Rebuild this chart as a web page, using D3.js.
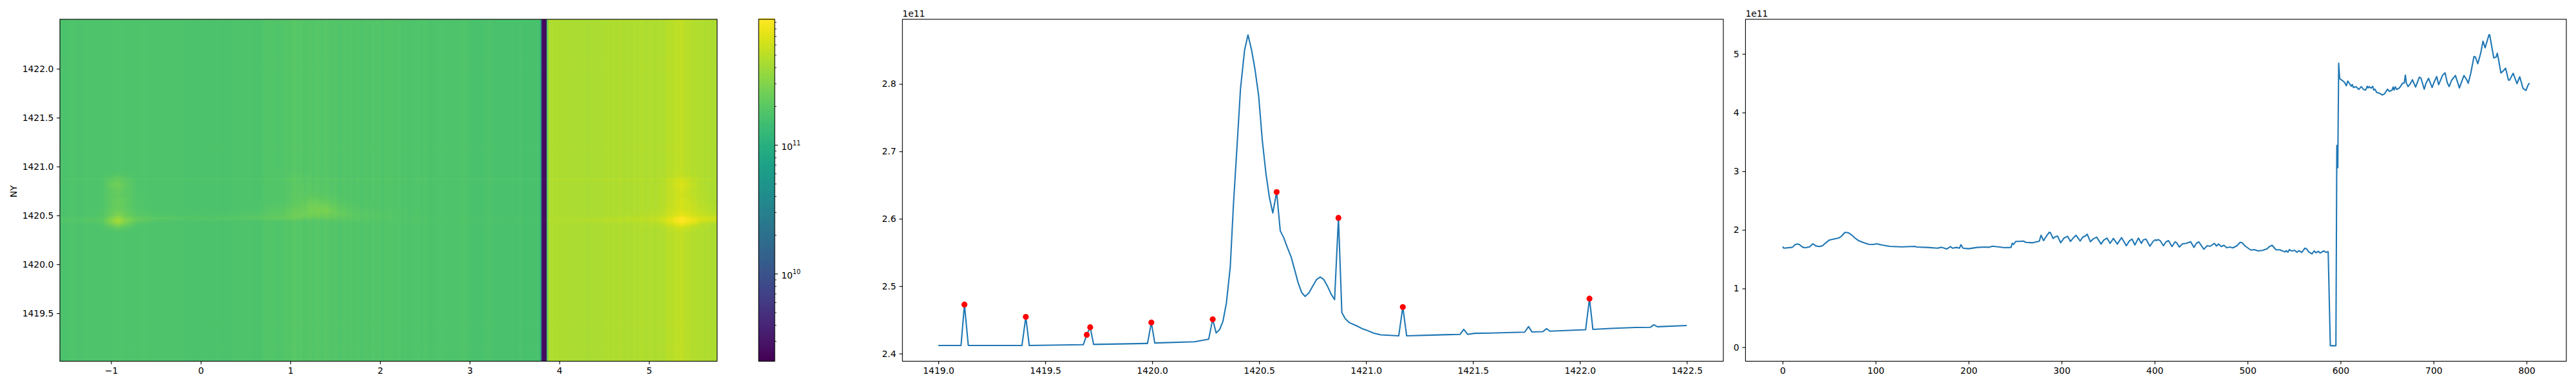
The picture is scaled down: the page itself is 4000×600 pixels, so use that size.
<!DOCTYPE html>
<html><head><meta charset="utf-8">
<script src="https://cdn.jsdelivr.net/npm/d3@7"></script>
<style>html,body{margin:0;padding:0;background:#fff}svg{display:block}text{font-family:'DejaVu Sans',sans-serif;fill:#000}</style>
</head><body><div id="chart"></div>
<script>
// ---- Panel 2: spectrum (frequency, units of 1e11)
const freq=[1419,1419.106,1419.122,1419.14,1419.391,1419.409,1419.425,1419.678,1419.694,1419.71,1419.726,1419.978,1419.996,1420.012,1420.198,1420.264,1420.283,1420.299,1420.315,1420.331,1420.347,1420.365,1420.38,1420.397,1420.413,1420.432,1420.448,1420.465,1420.481,1420.498,1420.515,1420.532,1420.548,1420.564,1420.582,1420.599,1420.615,1420.632,1420.65,1420.666,1420.682,1420.699,1420.715,1420.733,1420.749,1420.769,1420.786,1420.802,1420.82,1420.837,1420.853,1420.871,1420.887,1420.903,1420.921,1420.953,1420.985,1421,1421.035,1421.069,1421.153,1421.172,1421.19,1421.308,1421.389,1421.44,1421.457,1421.475,1421.507,1421.577,1421.742,1421.76,1421.776,1421.827,1421.844,1421.86,1422.027,1422.045,1422.061,1422.146,1422.26,1422.33,1422.346,1422.363,1422.5];
const power=[2.412,2.412,2.4727,2.412,2.412,2.4544,2.412,2.4131,2.4278,2.439,2.4135,2.415,2.446,2.4157,2.4175,2.4212,2.4508,2.4307,2.4354,2.448,2.475,2.528,2.621,2.709,2.793,2.85,2.8727,2.85,2.821,2.782,2.716,2.667,2.632,2.6086,2.6396,2.582,2.572,2.5574,2.543,2.5245,2.5055,2.4906,2.4848,2.49,2.499,2.51,2.5136,2.51,2.4997,2.488,2.48,2.6013,2.4606,2.4515,2.446,2.4416,2.4365,2.435,2.4303,2.4278,2.4263,2.469,2.4263,2.4274,2.4281,2.4285,2.436,2.4285,2.43,2.4303,2.4318,2.44,2.4321,2.4325,2.4369,2.4332,2.4354,2.4815,2.4358,2.4373,2.4387,2.439,2.4427,2.4398,2.4416];
const peakFreq=[1419.122,1419.409,1419.694,1419.71,1419.996,1420.283,1420.582,1420.871,1421.172,1422.045];
const peakPower=[2.4727,2.4544,2.4278,2.439,2.446,2.4508,2.6396,2.6013,2.469,2.4815];

// ---- Panel 3: profile (sample index, units of 1e11)
const sampleIdx=[0,1.4,10.6,13.4,15.9,18,21.7,24.5,29,32.5,36,39.5,43,45.7,50,54.5,60.2,63.2,67,70.6,74,78.7,82,86.8,92.6,97,101.3,107.5,115.5,128.3,142.2,144.5,156,166.5,171,176.4,180.5,182.6,187,190.2,191.8,194,200,209,217.2,222,225.7,232,239,245.6,247,248.4,250.7,254,258.8,261.8,269,275,276.1,277.9,280.7,283.5,286.7,288,290.9,292.7,295.7,299,302.6,306.5,309.5,312.5,315.5,320,322.6,325.7,327.5,331,333.8,337.7,342.5,345.3,348.8,352.2,355.7,359.9,364.5,369.6,373,375.8,378.8,382.7,385.8,388,390.8,395,398.4,400.8,402,403.5,406,409.5,412.3,415,418.7,422,423.8,426.6,430,434.2,438.8,442.3,445,447.6,453,456.6,460,464.2,466.5,468.8,471.7,474.6,477.4,481,484.3,488.5,492,494,497.7,503.5,507,511.5,516,521,523.5,526.5,530.5,534.6,540.4,541.5,543.4,545,547.3,550.8,553,555.4,558.3,561.7,563.5,565.8,569.3,571.6,573.4,576.2,578,582,584.3,586.7,589,595,596,597,598,599,602.7,604.3,606.2,607.8,609.6,611.5,612.6,613.8,616.6,619.6,622.3,625,626.9,628.8,629.7,630.9,632.7,634.6,635.7,637,638.9,641.9,644.9,647.2,650.5,652.3,655.3,656.5,657.6,658.8,660.4,663.4,666.7,668.5,669.7,670.8,672.6,675,677.3,680.7,684.7,686.5,690,691.7,694.6,698.5,700.4,703.4,705.5,709.6,712.4,714.7,716.8,719.3,723.5,727.8,732.7,735.4,737.3,740,743.5,745,747.6,750.6,753.2,755.5,759.6,760.3,764.8,767.3,768.5,770,772.4,774.7,777.5,780.5,781.7,785.6,789.7,792.7,796.2,799.4,801.3,803];
const sampleVal=[1.714,1.688,1.703,1.747,1.758,1.751,1.703,1.696,1.71,1.762,1.725,1.715,1.729,1.769,1.824,1.842,1.86,1.89,1.956,1.952,1.915,1.85,1.813,1.784,1.754,1.751,1.762,1.74,1.718,1.71,1.718,1.707,1.7,1.688,1.703,1.674,1.715,1.688,1.7,1.688,1.747,1.688,1.678,1.7,1.707,1.703,1.721,1.71,1.696,1.7,1.773,1.751,1.803,1.803,1.809,1.787,1.78,1.803,1.809,1.908,1.817,1.89,1.959,1.952,1.853,1.879,1.893,1.78,1.86,1.89,1.803,1.86,1.908,1.809,1.875,1.897,1.926,1.798,1.842,1.875,1.758,1.824,1.86,1.77,1.853,1.758,1.868,1.729,1.813,1.842,1.743,1.86,1.77,1.831,1.842,1.721,1.803,1.831,1.817,1.835,1.817,1.729,1.795,1.817,1.715,1.795,1.78,1.707,1.762,1.77,1.798,1.703,1.77,1.795,1.67,1.729,1.721,1.77,1.725,1.758,1.715,1.737,1.696,1.707,1.693,1.729,1.787,1.78,1.721,1.655,1.663,1.641,1.649,1.677,1.715,1.737,1.66,1.66,1.623,1.645,1.619,1.663,1.641,1.649,1.619,1.644,1.616,1.688,1.675,1.623,1.59,1.641,1.611,1.633,1.605,1.641,1.619,1.627,0.025,0.025,3.44,3.06,4.84,4.58,4.537,4.515,4.457,4.537,4.493,4.449,4.479,4.427,4.442,4.394,4.442,4.391,4.384,4.449,4.42,4.442,4.416,4.446,4.384,4.398,4.343,4.329,4.299,4.318,4.398,4.362,4.38,4.435,4.384,4.438,4.394,4.42,4.5,4.504,4.639,4.5,4.442,4.493,4.559,4.435,4.603,4.584,4.398,4.493,4.584,4.427,4.512,4.614,4.475,4.632,4.676,4.512,4.442,4.548,4.632,4.42,4.632,4.567,4.5,4.669,4.957,4.947,4.833,5.005,5.217,5.104,5.327,5.327,4.932,4.947,5.012,4.896,4.676,4.705,4.756,4.556,4.552,4.669,4.493,4.61,4.413,4.376,4.457,4.504];

// ---- Heatmap: the hump of the profile near sample 68 comes from the hot spot, so it is taken off the background
const humpIdx=[40,50,60,67,75,85,100];
const humpVal=[0,0.1,0.14,0.2,0.15,0.05,0];
// ---- Heatmap: extra brightness (hundredths of a decade)
const heatCols=[-1.57,-1.3,-1.1,-1,-0.92,-0.85,-0.7,-0.5,-0.2,0.2,0.7,0.95,1.1,1.25,1.4,1.55,1.75,2,2.5,3.86,4.5,4.9,5.1,5.25,5.37,5.5,5.6,5.76];
const heatRows=[1420.3,1420.34,1420.38,1420.41,1420.44,1420.47,1420.5,1420.55,1420.6,1420.65,1420.7,1420.75,1420.82,1420.9,1420.95];
const heatBoost=[
[0,0,0,0,0,0,0,0,0,0,0,0,0,0,0,0,0,0,0,0,0,0,0,0,0,0,0,0],
[0,0,0,1,2,1,0,0,0,0,0,0,0,0,0,0,0,0,0,0,0,0,0,1,2,1,0,0],
[0,0,1,8,13,8,0,0,0,0,0,0,0,0,0,0,0,0,0,0,0,0,1,4,8,4,1,0],
[0,0,3,18,26,17,2,0,0,0,0,0,0,0,0,0,0,0,0,0,0,1,3,10,20,12,3,1],
[2,3,6,26,39,26,8,3,1,1,1,1,1,1,1,2,3,1,1,1,3,4,7,18,28,22,12,8],
[2,3,6,22,32,22,10,7,5,5,8,10,10,8,8,7,4,2,1,1,3,5,8,16,26,20,14,14],
[0,0,3,14,22,15,4,2,1,1,4,8,12,13,12,10,4,2,0,0,0,1,4,9,16,12,8,5],
[0,0,2,11,14,11,2,1,0,0,2,6,10,16,17,9,3,1,0,0,0,0,2,7,10,9,5,2],
[0,0,1,9,11,9,1,0,0,0,1,3,7,14,12,5,1,0,0,0,0,0,1,5,8,7,3,1],
[0,0,1,9,12,10,1,0,0,0,0,1,5,10,7,2,0,0,0,0,0,0,1,5,9,6,2,0],
[0,0,1,8,9,8,1,0,0,0,0,1,4,5,3,1,0,0,0,0,0,0,1,4,6,4,1,0],
[0,0,1,9,11,8,0,0,0,0,0,1,4,3,1,0,0,0,0,0,0,0,1,4,8,4,1,0],
[0,0,1,12,16,10,0,0,0,0,0,1,3,2,1,0,0,0,0,0,0,0,1,5,12,5,0,0],
[0,0,0,3,5,3,0,0,0,0,0,1,2,1,0,0,0,0,0,0,0,0,0,1,2,1,0,0],
[0,0,0,0,0,0,0,0,0,0,0,0,0,0,0,0,0,0,0,0,0,0,0,0,0,0,0,0]];
const rowLineFreq=[1419.122,1419.409,1420.871,1421.172,1422.045];
const rowLineGain=[0.006,0.006,0.025,0.006,0.01];

// ---- Tick labels
const heatXTicks=[-1,0,1,2,3,4,5];
const heatYTicks=[1419.5,1420,1420.5,1421,1421.5,1422];
const specXTicks=[1419,1419.5,1420,1420.5,1421,1421.5,1422,1422.5];
const specYTicks=[2.4,2.5,2.6,2.7,2.8];
const profXTicks=[0,100,200,300,400,500,600,700,800];
const profYTicks=[0,1,2,3,4,5];
const colorDomain=[2.1e9,9.5e11];
const colorExps=[10,11];

const FS=13.9, TL=4.86, LW=1.11, BLUE='#1f77b4';
const plotTop=30,plotBottom=561.5;
const svg=d3.select('#chart').append('svg').attr('width',4000).attr('height',600);

function axes(left,right,xs,ys,xt,yt,xf,yf){
  const b=svg.append('g');
  const gx=b.append('g').attr('transform',`translate(0,${plotBottom})`)
    .call(d3.axisBottom(xs).tickValues(xt).tickSize(TL).tickPadding(TL).tickFormat(xf));
  const gy=b.append('g').attr('transform',`translate(${left},0)`)
    .call(d3.axisLeft(ys).tickValues(yt).tickSize(TL).tickPadding(TL).tickFormat(yf));
  [gx,gy].forEach(g=>{
    g.select('.domain').remove();
    g.selectAll('line').attr('stroke','#000').attr('stroke-width',LW);
    g.selectAll('text').style('font-size',FS+'px').style('font-family',"'DejaVu Sans'");
  });
  b.append('rect').attr('x',left).attr('y',plotTop).attr('width',right-left).attr('height',plotBottom-plotTop)
    .attr('fill','none').attr('stroke','#000').attr('stroke-width',LW);
}

// ---------- Heatmap
const H={l:93,r:1113.5};
const hx=d3.scaleLinear().domain([-1.571,5.76]).range([H.l,H.r]);
const hy=d3.scaleLinear().domain([1419.01,1422.505]).range([plotBottom,plotTop]);
const idxOfX=d3.scaleLinear().domain([-1.571,5.76]).range([0,803]);
const humpOf=d3.scaleLinear().domain(humpIdx).range(humpVal).clamp(true);
const color=d3.scaleSequentialLog(d3.interpolateViridis).domain(colorDomain).clamp(true);
function lookup(xsArr,v){
  const i=Math.min(Math.max(d3.bisectLeft(xsArr,v),1),xsArr.length-1);
  const t=(v-xsArr[i-1])/(xsArr[i]-xsArr[i-1]);
  return [i,Math.max(0,Math.min(1,t))];
}
const cw=Math.round(H.r-H.l), ch=Math.round(plotBottom-plotTop);
const cv=document.createElement('canvas'); cv.width=cw; cv.height=ch;
const ctx=cv.getContext('2d'); const im=ctx.createImageData(cw,ch);
const colBase=[],colK=[];
for(let c0=0;c0<cw;c0++){
  const xv=hx.invert(H.l+c0+.5), id=idxOfX(xv);
  const [i,t]=lookup(sampleIdx,id);
  colBase.push((sampleVal[i-1]*(1-t)+sampleVal[i]*t-humpOf(id))*1e11);
  colK.push(lookup(heatCols,xv));
}
for(let r0=0;r0<ch;r0++){
  const f=hy.invert(plotTop+r0+.5);
  const [ri,rt]=lookup(heatRows,f);
  let line=0; rowLineFreq.forEach((lf,k)=>{if(Math.abs(f-lf)<0.009) line+=rowLineGain[k];});
  const inside=f>=heatRows[0]&&f<=heatRows[heatRows.length-1];
  for(let c0=0;c0<cw;c0++){
    const [ci,ct]=colK[c0];
    let bo=0;
    if(inside){
      const A=heatBoost[ri-1],B=heatBoost[ri];
      bo=(A[ci-1]*(1-ct)+A[ci]*ct)*(1-rt)+(B[ci-1]*(1-ct)+B[ci]*ct)*rt;
    }
    const c=d3.rgb(color(colBase[c0]*Math.pow(10,bo/100+line)));
    const o=(r0*cw+c0)*4; im.data[o]=c.r; im.data[o+1]=c.g; im.data[o+2]=c.b; im.data[o+3]=255;
  }
}
ctx.putImageData(im,0,0);
svg.append('image').attr('x',H.l).attr('y',plotTop).attr('width',H.r-H.l).attr('height',plotBottom-plotTop)
  .attr('preserveAspectRatio','none').attr('href',cv.toDataURL());
axes(H.l,H.r,hx,hy,heatXTicks,heatYTicks,d3.format('d'),d3.format('.1f'));
svg.append('text').attr('transform','translate(26,297.5) rotate(-90)').attr('text-anchor','middle')
  .style('font-size',FS+'px').text('NY');

// ---------- Colorbar
const C={l:1178,r:1203};
const cy=d3.scaleLog().domain(colorDomain).range([plotBottom,plotTop]);
const stops=d3.range(0,ch+1).map(i=>cy.invert(plotBottom-i));
svg.append('g').selectAll('rect').data(stops).join('rect')
  .attr('x',C.l).attr('width',C.r-C.l).attr('y',d=>cy(d)-1).attr('height',1.6)
  .attr('fill',d=>color(d));
svg.append('rect').attr('x',C.l).attr('y',plotTop).attr('width',C.r-C.l).attr('height',plotBottom-plotTop)
  .attr('fill','none').attr('stroke','#000').attr('stroke-width',LW);
const minors=[];
[9,10,11].forEach(e=>{for(let m=2;m<10;m++){const v=m*Math.pow(10,e); if(v>=colorDomain[0]&&v<=colorDomain[1]) minors.push(v);}});
svg.append('g').selectAll('line').data(minors).join('line')
  .attr('x1',C.r).attr('x2',C.r+2.78).attr('y1',d=>cy(d)).attr('y2',d=>cy(d))
  .attr('stroke','#000').attr('stroke-width',0.83);
const maj=svg.append('g').selectAll('g').data(colorExps).join('g')
  .attr('transform',d=>`translate(${C.r},${cy(Math.pow(10,d))})`);
maj.append('line').attr('x2',TL).attr('stroke','#000').attr('stroke-width',LW);
maj.append('text').attr('x',TL+TL+0.5).attr('y',7).style('font-size',FS+'px').text('10');
maj.append('text').attr('x',TL+TL+18).attr('y',0).style('font-size',(FS*0.7)+'px').text(d=>d);

// ---------- Spectrum
const S={l:1401.3,r:2676};
const sx=d3.scaleLinear().domain([1418.832,1422.671]).range([S.l,S.r]);
const sy=d3.scaleLinear().domain([2.3886,2.8959]).range([plotBottom,plotTop]);
axes(S.l,S.r,sx,sy,specXTicks,specYTicks,d3.format('.1f'),d3.format('.1f'));
svg.append('path').attr('fill','none').attr('stroke',BLUE).attr('stroke-width',2.08).attr('stroke-linejoin','round')
  .attr('d',d3.line().x((d,i)=>sx(freq[i])).y(d=>sy(d))(power));
svg.append('g').selectAll('circle').data(peakPower).join('circle')
  .attr('cx',(d,i)=>sx(peakFreq[i])).attr('cy',d=>sy(d)).attr('r',4.6).attr('fill','#ff0000');
svg.append('text').attr('x',S.l).attr('y',26).style('font-size',FS+'px').text('1e11');

// ---------- Profile
const P={l:2710.4,r:3985};
const px3=d3.scaleLinear().domain([-39.9,842.8]).range([P.l,P.r]);
const py3=d3.scaleLinear().domain([-0.24,5.59]).range([plotBottom,plotTop]);
axes(P.l,P.r,px3,py3,profXTicks,profYTicks,d3.format('d'),d3.format('d'));
svg.append('path').attr('fill','none').attr('stroke',BLUE).attr('stroke-width',2.08).attr('stroke-linejoin','round')
  .attr('d',d3.line().x((d,i)=>px3(sampleIdx[i])).y(d=>py3(d))(sampleVal));
svg.append('text').attr('x',P.l).attr('y',26).style('font-size',FS+'px').text('1e11');
</script></body></html>
